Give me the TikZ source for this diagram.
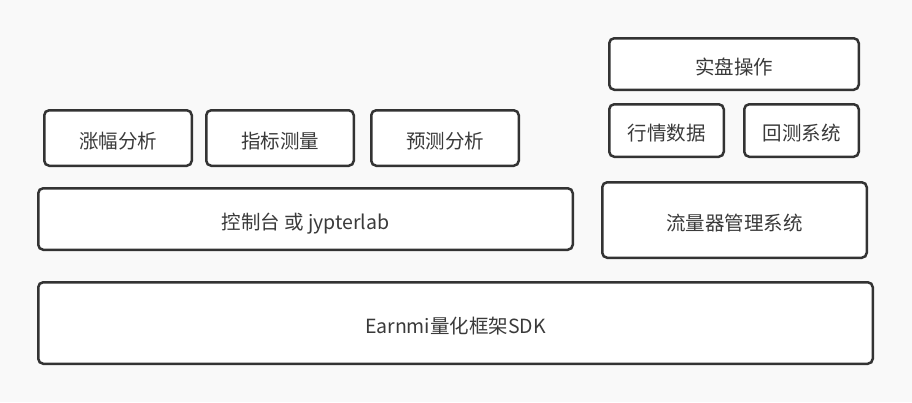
\documentclass[tikz,border=0pt]{standalone}
\usepackage{fontspec}
\newfontfamily\cjk{Noto Sans CJK SC}
\usetikzlibrary{positioning}
\definecolor{rand}{HTML}{333333}
\definecolor{schrift}{HTML}{3A3A3A}
\definecolor{grund}{HTML}{F9F9F9}
\begin{document}
\begin{tikzpicture}[
    x=1pt, y=-1pt,
    kasten/.style={draw=rand, line width=2.5pt, rounded corners=5pt, fill=white,
      text=schrift, inner sep=0pt, text height=20pt, text depth=0pt,
      font=\cjk\fontsize{19.5}{23}\selectfont},
  ]

  \fill[grund] (0, 0) rectangle (912, 402);
  \useasboundingbox (0, 0) rectangle (912, 402);

  % linke Spalte
  \node[kasten, minimum width=147.5pt, minimum height=55.5pt] (zhangfu) at (118, 138) {涨幅分析};
  \node[kasten, minimum width=147.5pt, minimum height=55.5pt] (zhibiao) at (280, 138) {指标测量};
  \node[kasten, minimum width=147.5pt, minimum height=55.5pt] (yuce) at (445, 138) {预测分析};
  \node[kasten, minimum width=534.5pt, minimum height=61.5pt] (konsole) at (305.5, 219) {控制台 或 jypterlab};

  % rechte Spalte
  \node[kasten, minimum width=249.5pt, minimum height=51.5pt] (shipan) at (734, 64) {实盘操作};
  \node[kasten, minimum width=114.5pt, minimum height=52.5pt] (hangqing) at (666.5, 130.5) {行情数据};
  \node[kasten, minimum width=114.5pt, minimum height=52.5pt] (huice) at (801.5, 130.5) {回测系统};
  \node[kasten, minimum width=264.5pt, minimum height=75.5pt] (liuliang) at (734.5, 220) {流量器管理系统};

  % Basis
  \node[kasten, minimum width=834.5pt, minimum height=81.5pt] (basis) at (455.5, 323) {Earnmi量化框架SDK};
\end{tikzpicture}
\end{document}
